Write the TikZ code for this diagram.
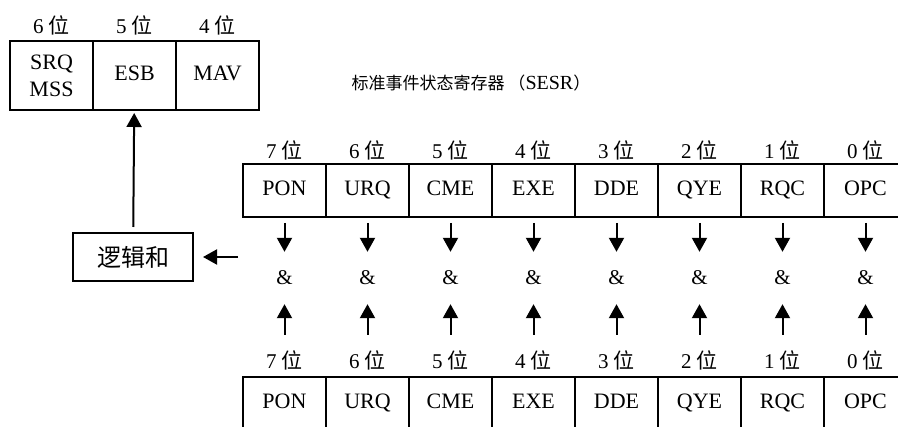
\documentclass[tikz,border=0pt]{standalone}
\usepackage{fontspec}
\setmainfont{Liberation Serif}
\newfontfamily\cjk{Noto Sans CJK SC}
\usetikzlibrary{arrows.meta,positioning}

\begin{document}
\begin{tikzpicture}[x=1pt, y=-1pt,
    cell/.style={rectangle, draw, line width=2pt, minimum width=83pt, minimum height=53pt, inner sep=0pt, align=center, font=\fontsize{22}{27}\selectfont},
    flat/.style={text height=15pt, text depth=4pt},
    bitlabel/.style={inner sep=0pt, minimum height=20pt, font=\fontsize{21}{24}\selectfont},
    andnode/.style={inner sep=0pt, minimum height=26pt, font=\fontsize{21}{24}\selectfont},
    arrow/.style={-{Triangle[length=14pt, width=15pt]}, line width=2pt}
  ]
    \clip (0,0) rectangle (898,427);

    % status byte register (part)
    \node[cell, minimum height=69pt] (srq) at (51.5,75.5) {SRQ\\MSS};
    \node[cell, flat, minimum height=69pt] (esb) at (134.5,75.5) {ESB};
    \node[cell, flat, minimum height=69pt] (mav) at (217.5,75.5) {MAV};
    \node[bitlabel] (srqbit) at (51.5,25) {6~{\cjk 位}};
    \node[bitlabel] (esbbit) at (134.5,25) {5~{\cjk 位}};
    \node[bitlabel] (mavbit) at (217.5,25) {4~{\cjk 位}};

    \node[font=\fontsize{17}{20}\selectfont] (title) at (471,83) {{\cjk 标准事件状态寄存器 （}{\fontsize{20}{20}\selectfont SESR}{\cjk ）}};

    \node[draw, line width=2pt, minimum width=120pt, minimum height=48pt, font=\cjk\fontsize{24}{26}\selectfont] (logic) at (133,257) {逻辑和};
    \coordinate (gather) at (238,257);

    % SESR and its enable register
    \foreach \name [count=\i from 0] in {PON,URQ,CME,EXE,DDE,QYE,RQC,OPC} {
      \pgfmathtruncatemacro\bit{7-\i}
      \node[bitlabel] (sb\i) at ({284.5+83*\i},150) {\bit~{\cjk 位}};
      \node[cell, flat] (s\i) at ({284.5+83*\i},190.5) {\name};
      \node[andnode] (and\i) at ({284.5+83*\i},278) {\&};
      \node[bitlabel] (eb\i) at ({284.5+83*\i},360) {\bit~{\cjk 位}};
      \node[cell, flat] (e\i) at ({284.5+83*\i},403.5) {\name};
      \draw[arrow, shorten <=5pt, shorten >=13pt] (s\i) -- (and\i);
      \draw[arrow, shorten <=15pt, shorten >=13pt] (eb\i) -- (and\i);
    }

    \draw[arrow, shorten >=9pt] (gather) -- (logic.east);
    \draw[arrow, shorten <=5pt, shorten >=2pt] (logic) -- (esb);
\end{tikzpicture}
\end{document}
